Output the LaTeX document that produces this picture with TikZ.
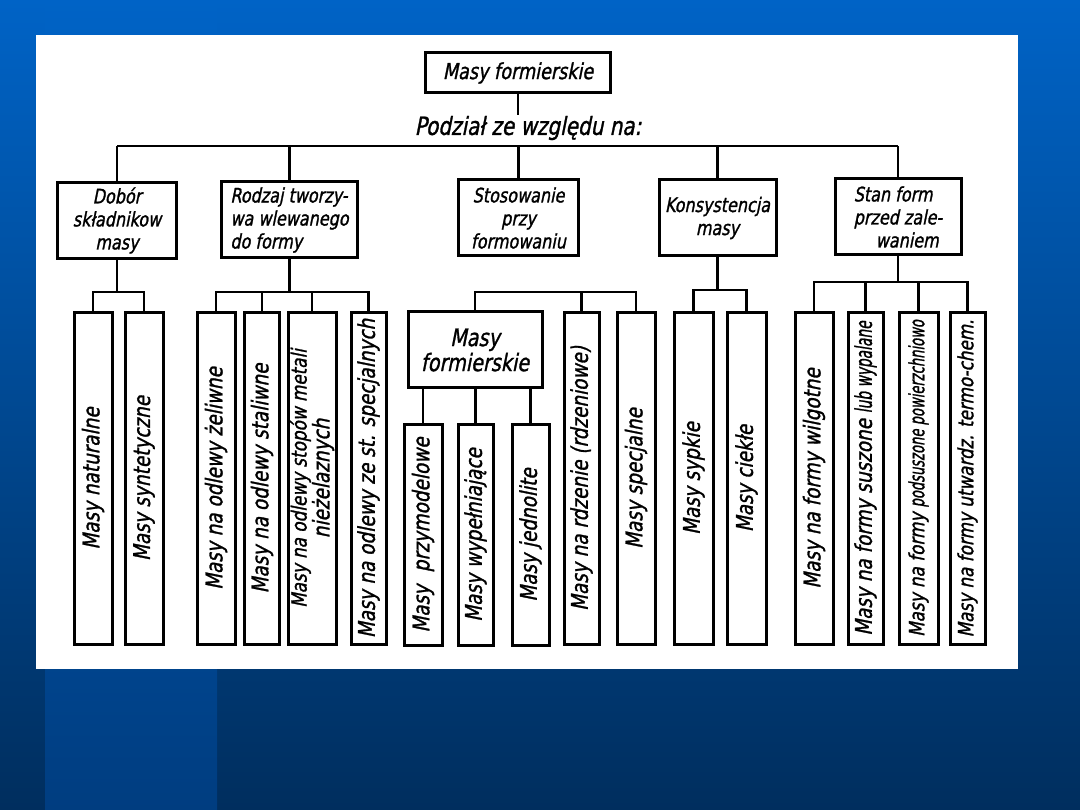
\documentclass[tikz,border=0pt]{standalone}
\usepackage{fontspec}
\newfontfamily\kreska{DejaVu Sans}[FakeSlant=0.2,FakeStretch=0.8,FakeBold=1.2]
\usepackage{tikz}
\usetikzlibrary{calc}
\definecolor{slideTop}{HTML}{0063C6}
\definecolor{slideBot}{HTML}{002E5E}
\definecolor{bandBot}{HTML}{003D80}

\begin{document}
\begin{tikzpicture}[
      x=1pt, y=-1pt,
      conn/.style={line width=2.2pt},
      box/.style={draw, line width=3pt, inner sep=1pt, align=center},
      topBox/.style={box, minimum width=185pt, minimum height=40pt,
        font=\kreska\fontsize{22}{26}\selectfont},
      catBox/.style={box, minimum height=76pt,
        font=\kreska\fontsize{20}{23}\selectfont},
      leafBox/.style={box, rotate=90, inner sep=0pt, minimum width=332pt,
        font=\kreska\fontsize{23}{17}\selectfont}
    ]
  \useasboundingbox (0,0) rectangle (1080,810);
  % --- Tlo slajdu ---
  \shade[top color=slideTop, bottom color=slideBot] (0,0) rectangle (1080,810);
  \shade[top color=slideTop, bottom color=bandBot] (45,0) rectangle (217,810);
  \fill[white] (36,35) rectangle (1018,669);

  % --- Gora: masy formierskie i podzial ---
  \node[topBox] (top) at (518,73) {Masy formierskie};
  \node[font=\kreska\fontsize{25}{28}\selectfont, inner sep=1pt] (podzial) at (528,128) {Podział ze względu na:};
  \coordinate (bus) at (516,146);

  \node[catBox, minimum width=119pt] (dobor) at (117,220.5) {Dobór\\składnikow\\masy};
  \node[catBox, minimum width=136pt, align=left] (rodzaj) at (289.5,220) {Rodzaj tworzy-\\wa wlewanego\\do formy};
  \node[catBox, minimum width=120pt] (stos) at (518.5,218) {Stosowanie\\przy\\formowaniu};
  \node[catBox, minimum width=117pt] (kons) at (717.5,218) {Konsystencja\\masy};
  \node[catBox, minimum width=126pt, align=left] (stan) at (898,217) {Stan form\\przed zale-\\\hspace*{1.1em}waniem};

  \draw[conn] (top.south) -- (top.south |- podzial.north);
  \draw[conn] (dobor.north |- bus) -- (stan.north |- bus);
  \foreach \k in {dobor,rodzaj,stos,kons,stan}
    \draw[conn] (\k.north) -- (\k.north |- bus);

  % --- Liscie (tekst pionowo) ---
  \foreach \n/\x/\w/\t in {
      natur/93/38/{Masy naturalne},
      synt/144/38/{Masy syntetyczne},
      zel/216/38/{Masy na odlewy żeliwne},
      stal/262/35/{Masy na odlewy staliwne},
      niezel/312/48/{\fontsize{21}{17}\selectfont Masy na odlewy stopów metali\\nieżelaznych},
      specSt/368.5/35/{Masy na odlewy ze st. specjalnych},
      rdzen/581.5/35/{Masy na rdzenie (rdzeniowe)},
      specj/636/38/{Masy specjalne},
      sypk/693.5/39/{Masy sypkie},
      ciek/746.5/39/{Masy ciekłe},
      wilg/814/38/{Masy na formy wilgotne},
      susz/865.5/35/{Masy na formy suszone \scalebox{0.75}[1]{lub wypalane}},
      podsusz/918.5/39/{\fontsize{21}{17}\selectfont Masy na formy \scalebox{0.78}[1]{podsuszone powierzchniowo}},
      utw/967.5/35/{\fontsize{21}{17}\selectfont Masy na formy utwardz. termo-chem.}}
    {\node[leafBox, minimum height=\w pt] (\n) at (\x,478.5) {\t};}

  \node[box, minimum width=134pt, minimum height=76pt,
    font=\kreska\fontsize{24}{25}\selectfont] (subMasy) at (475,350) {Masy\\formierskie};
  \foreach \n/\x/\w/\t in {
      przym/423/38/{Masy\hspace{0.3em} przymodelowe},
      wyp/475.5/35/{Masy wypełniające},
      jedn/530.5/37/{Masy jednolite}}
    {\node[leafBox, minimum width=220pt, minimum height=\w pt] (\n) at (\x,535) {\t};}

  % --- Polaczenia w grupach ---
  \coordinate (dBus) at (0,292);
  \coordinate (sBus) at (0,292);
  \coordinate (kBus) at (0,290);
  \coordinate (zBus) at (0,282);

  \draw[conn] (dobor.south) -- (dobor.south |- dBus);
  \draw[conn] (natur.east) -- (natur.east |- dBus) -- (synt.east |- dBus) -- (synt.east);

  \draw[conn] (rodzaj.south) -- (rodzaj.south |- dBus);
  \draw[conn] (zel.east) -- (zel.east |- dBus) -- (specSt.east |- dBus) -- (specSt.east);
  \foreach \n in {stal,niezel}
    \draw[conn] (\n.east) -- (\n.east |- dBus);

  \draw[conn] (subMasy.north) -- (subMasy.north |- sBus) -- (specj.east |- sBus) -- (specj.east);
  \draw[conn] (rdzen.east) -- (rdzen.east |- sBus);
  \foreach \n in {przym,wyp,jedn}
    \draw[conn] (\n.east) -- (\n.east |- subMasy.south);

  \draw[conn] (kons.south) -- (kons.south |- kBus);
  \draw[conn] (sypk.east) -- (sypk.east |- kBus) -- (ciek.east |- kBus) -- (ciek.east);

  \draw[conn] (stan.south) -- (stan.south |- zBus);
  \draw[conn] (wilg.east) -- (wilg.east |- zBus) -- (utw.east |- zBus) -- (utw.east);
  \foreach \n in {susz,podsusz}
    \draw[conn] (\n.east) -- (\n.east |- zBus);
\end{tikzpicture}
\end{document}
